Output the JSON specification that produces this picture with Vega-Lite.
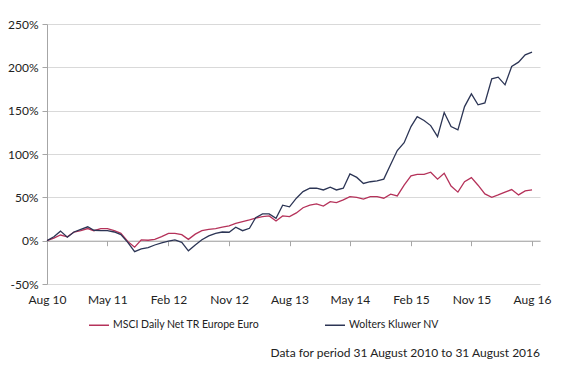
{
  "$schema": "https://vega.github.io/schema/vega-lite/v6.json",
  "width": 493,
  "height": 260,
  "autosize": {"type": "none"},
  "padding": {"left": 47, "top": 24, "right": 33, "bottom": 92},
  "background": "white",
  "config": {
    "font": "Lato",
    "view": {"stroke": null},
    "axis": {"labelFont": "Lato", "labelFontSize": 12, "labelColor": "#222222"},
    "legend": {"labelFont": "Lato", "labelFontSize": 10.5, "labelColor": "#222222"}
  },
  "title": {"text": "Data for period 31 August 2010 to 31 August 2016", "orient": "bottom", "anchor": "end", "frame": "group", "fontSize": 12, "fontWeight": "normal", "color": "#222222", "font": "Lato", "offset": 17},
  "data": {"values": [
    {"d":"2010-08-01","s":"MSCI Daily Net TR Europe Euro","v":0},
    {"d":"2010-09-01","s":"MSCI Daily Net TR Europe Euro","v":3},
    {"d":"2010-10-01","s":"MSCI Daily Net TR Europe Euro","v":6.5},
    {"d":"2010-11-01","s":"MSCI Daily Net TR Europe Euro","v":4.5},
    {"d":"2010-12-01","s":"MSCI Daily Net TR Europe Euro","v":10},
    {"d":"2011-01-01","s":"MSCI Daily Net TR Europe Euro","v":11.5},
    {"d":"2011-02-01","s":"MSCI Daily Net TR Europe Euro","v":14},
    {"d":"2011-03-01","s":"MSCI Daily Net TR Europe Euro","v":11.5},
    {"d":"2011-04-01","s":"MSCI Daily Net TR Europe Euro","v":14},
    {"d":"2011-05-01","s":"MSCI Daily Net TR Europe Euro","v":14},
    {"d":"2011-06-01","s":"MSCI Daily Net TR Europe Euro","v":11.5},
    {"d":"2011-07-01","s":"MSCI Daily Net TR Europe Euro","v":8.5},
    {"d":"2011-08-01","s":"MSCI Daily Net TR Europe Euro","v":-1},
    {"d":"2011-09-01","s":"MSCI Daily Net TR Europe Euro","v":-7.5},
    {"d":"2011-10-01","s":"MSCI Daily Net TR Europe Euro","v":1},
    {"d":"2011-11-01","s":"MSCI Daily Net TR Europe Euro","v":0.5},
    {"d":"2011-12-01","s":"MSCI Daily Net TR Europe Euro","v":1.5},
    {"d":"2012-01-01","s":"MSCI Daily Net TR Europe Euro","v":4.6},
    {"d":"2012-02-01","s":"MSCI Daily Net TR Europe Euro","v":8.5},
    {"d":"2012-03-01","s":"MSCI Daily Net TR Europe Euro","v":8.5},
    {"d":"2012-04-01","s":"MSCI Daily Net TR Europe Euro","v":7},
    {"d":"2012-05-01","s":"MSCI Daily Net TR Europe Euro","v":1.5},
    {"d":"2012-06-01","s":"MSCI Daily Net TR Europe Euro","v":7.5},
    {"d":"2012-07-01","s":"MSCI Daily Net TR Europe Euro","v":11.5},
    {"d":"2012-08-01","s":"MSCI Daily Net TR Europe Euro","v":13},
    {"d":"2012-09-01","s":"MSCI Daily Net TR Europe Euro","v":14},
    {"d":"2012-10-01","s":"MSCI Daily Net TR Europe Euro","v":15.5},
    {"d":"2012-11-01","s":"MSCI Daily Net TR Europe Euro","v":17},
    {"d":"2012-12-01","s":"MSCI Daily Net TR Europe Euro","v":20},
    {"d":"2013-01-01","s":"MSCI Daily Net TR Europe Euro","v":22},
    {"d":"2013-02-01","s":"MSCI Daily Net TR Europe Euro","v":24},
    {"d":"2013-03-01","s":"MSCI Daily Net TR Europe Euro","v":26},
    {"d":"2013-04-01","s":"MSCI Daily Net TR Europe Euro","v":27.7},
    {"d":"2013-05-01","s":"MSCI Daily Net TR Europe Euro","v":28.5},
    {"d":"2013-06-01","s":"MSCI Daily Net TR Europe Euro","v":22.7},
    {"d":"2013-07-01","s":"MSCI Daily Net TR Europe Euro","v":28.5},
    {"d":"2013-08-01","s":"MSCI Daily Net TR Europe Euro","v":27.7},
    {"d":"2013-09-01","s":"MSCI Daily Net TR Europe Euro","v":32},
    {"d":"2013-10-01","s":"MSCI Daily Net TR Europe Euro","v":38},
    {"d":"2013-11-01","s":"MSCI Daily Net TR Europe Euro","v":41},
    {"d":"2013-12-01","s":"MSCI Daily Net TR Europe Euro","v":42.4},
    {"d":"2014-01-01","s":"MSCI Daily Net TR Europe Euro","v":40},
    {"d":"2014-02-01","s":"MSCI Daily Net TR Europe Euro","v":45},
    {"d":"2014-03-01","s":"MSCI Daily Net TR Europe Euro","v":44},
    {"d":"2014-04-01","s":"MSCI Daily Net TR Europe Euro","v":47},
    {"d":"2014-05-01","s":"MSCI Daily Net TR Europe Euro","v":50.8},
    {"d":"2014-06-01","s":"MSCI Daily Net TR Europe Euro","v":50},
    {"d":"2014-07-01","s":"MSCI Daily Net TR Europe Euro","v":48},
    {"d":"2014-08-01","s":"MSCI Daily Net TR Europe Euro","v":50.8},
    {"d":"2014-09-01","s":"MSCI Daily Net TR Europe Euro","v":50.8},
    {"d":"2014-10-01","s":"MSCI Daily Net TR Europe Euro","v":49},
    {"d":"2014-11-01","s":"MSCI Daily Net TR Europe Euro","v":53.6},
    {"d":"2014-12-01","s":"MSCI Daily Net TR Europe Euro","v":51.6},
    {"d":"2015-01-01","s":"MSCI Daily Net TR Europe Euro","v":64},
    {"d":"2015-02-01","s":"MSCI Daily Net TR Europe Euro","v":74.7},
    {"d":"2015-03-01","s":"MSCI Daily Net TR Europe Euro","v":76.6},
    {"d":"2015-04-01","s":"MSCI Daily Net TR Europe Euro","v":76.6},
    {"d":"2015-05-01","s":"MSCI Daily Net TR Europe Euro","v":79},
    {"d":"2015-06-01","s":"MSCI Daily Net TR Europe Euro","v":71},
    {"d":"2015-07-01","s":"MSCI Daily Net TR Europe Euro","v":77.8},
    {"d":"2015-08-01","s":"MSCI Daily Net TR Europe Euro","v":63},
    {"d":"2015-09-01","s":"MSCI Daily Net TR Europe Euro","v":56},
    {"d":"2015-10-01","s":"MSCI Daily Net TR Europe Euro","v":68},
    {"d":"2015-11-01","s":"MSCI Daily Net TR Europe Euro","v":72.7},
    {"d":"2015-12-01","s":"MSCI Daily Net TR Europe Euro","v":64},
    {"d":"2016-01-01","s":"MSCI Daily Net TR Europe Euro","v":54},
    {"d":"2016-02-01","s":"MSCI Daily Net TR Europe Euro","v":50},
    {"d":"2016-03-01","s":"MSCI Daily Net TR Europe Euro","v":52.8},
    {"d":"2016-04-01","s":"MSCI Daily Net TR Europe Euro","v":56},
    {"d":"2016-05-01","s":"MSCI Daily Net TR Europe Euro","v":59},
    {"d":"2016-06-01","s":"MSCI Daily Net TR Europe Euro","v":52.8},
    {"d":"2016-07-01","s":"MSCI Daily Net TR Europe Euro","v":57.4},
    {"d":"2016-08-01","s":"MSCI Daily Net TR Europe Euro","v":58.5},
    {"d":"2010-08-01","s":"Wolters Kluwer NV","v":0},
    {"d":"2010-09-01","s":"Wolters Kluwer NV","v":4.5},
    {"d":"2010-10-01","s":"Wolters Kluwer NV","v":11},
    {"d":"2010-11-01","s":"Wolters Kluwer NV","v":4},
    {"d":"2010-12-01","s":"Wolters Kluwer NV","v":10},
    {"d":"2011-01-01","s":"Wolters Kluwer NV","v":13},
    {"d":"2011-02-01","s":"Wolters Kluwer NV","v":16},
    {"d":"2011-03-01","s":"Wolters Kluwer NV","v":12},
    {"d":"2011-04-01","s":"Wolters Kluwer NV","v":11.5},
    {"d":"2011-05-01","s":"Wolters Kluwer NV","v":11.5},
    {"d":"2011-06-01","s":"Wolters Kluwer NV","v":10},
    {"d":"2011-07-01","s":"Wolters Kluwer NV","v":7},
    {"d":"2011-08-01","s":"Wolters Kluwer NV","v":-2},
    {"d":"2011-09-01","s":"Wolters Kluwer NV","v":-12.7},
    {"d":"2011-10-01","s":"Wolters Kluwer NV","v":-9.5},
    {"d":"2011-11-01","s":"Wolters Kluwer NV","v":-8},
    {"d":"2011-12-01","s":"Wolters Kluwer NV","v":-5},
    {"d":"2012-01-01","s":"Wolters Kluwer NV","v":-2.5},
    {"d":"2012-02-01","s":"Wolters Kluwer NV","v":-0.5},
    {"d":"2012-03-01","s":"Wolters Kluwer NV","v":1},
    {"d":"2012-04-01","s":"Wolters Kluwer NV","v":-2},
    {"d":"2012-05-01","s":"Wolters Kluwer NV","v":-11.7},
    {"d":"2012-06-01","s":"Wolters Kluwer NV","v":-5},
    {"d":"2012-07-01","s":"Wolters Kluwer NV","v":1},
    {"d":"2012-08-01","s":"Wolters Kluwer NV","v":5.5},
    {"d":"2012-09-01","s":"Wolters Kluwer NV","v":8.5},
    {"d":"2012-10-01","s":"Wolters Kluwer NV","v":10},
    {"d":"2012-11-01","s":"Wolters Kluwer NV","v":9.7},
    {"d":"2012-12-01","s":"Wolters Kluwer NV","v":15.5},
    {"d":"2013-01-01","s":"Wolters Kluwer NV","v":11.5},
    {"d":"2013-02-01","s":"Wolters Kluwer NV","v":14.3},
    {"d":"2013-03-01","s":"Wolters Kluwer NV","v":26.6},
    {"d":"2013-04-01","s":"Wolters Kluwer NV","v":30.8},
    {"d":"2013-05-01","s":"Wolters Kluwer NV","v":30.8},
    {"d":"2013-06-01","s":"Wolters Kluwer NV","v":25.9},
    {"d":"2013-07-01","s":"Wolters Kluwer NV","v":41},
    {"d":"2013-08-01","s":"Wolters Kluwer NV","v":39},
    {"d":"2013-09-01","s":"Wolters Kluwer NV","v":49},
    {"d":"2013-10-01","s":"Wolters Kluwer NV","v":56.6},
    {"d":"2013-11-01","s":"Wolters Kluwer NV","v":60.5},
    {"d":"2013-12-01","s":"Wolters Kluwer NV","v":60.5},
    {"d":"2014-01-01","s":"Wolters Kluwer NV","v":58.5},
    {"d":"2014-02-01","s":"Wolters Kluwer NV","v":61.7},
    {"d":"2014-03-01","s":"Wolters Kluwer NV","v":58.5},
    {"d":"2014-04-01","s":"Wolters Kluwer NV","v":60.5},
    {"d":"2014-05-01","s":"Wolters Kluwer NV","v":77},
    {"d":"2014-06-01","s":"Wolters Kluwer NV","v":73},
    {"d":"2014-07-01","s":"Wolters Kluwer NV","v":66},
    {"d":"2014-08-01","s":"Wolters Kluwer NV","v":68},
    {"d":"2014-09-01","s":"Wolters Kluwer NV","v":69},
    {"d":"2014-10-01","s":"Wolters Kluwer NV","v":71},
    {"d":"2014-11-01","s":"Wolters Kluwer NV","v":88},
    {"d":"2014-12-01","s":"Wolters Kluwer NV","v":104},
    {"d":"2015-01-01","s":"Wolters Kluwer NV","v":113},
    {"d":"2015-02-01","s":"Wolters Kluwer NV","v":131.6},
    {"d":"2015-03-01","s":"Wolters Kluwer NV","v":143},
    {"d":"2015-04-01","s":"Wolters Kluwer NV","v":138.6},
    {"d":"2015-05-01","s":"Wolters Kluwer NV","v":132.8},
    {"d":"2015-06-01","s":"Wolters Kluwer NV","v":120},
    {"d":"2015-07-01","s":"Wolters Kluwer NV","v":147.8},
    {"d":"2015-08-01","s":"Wolters Kluwer NV","v":131.6},
    {"d":"2015-09-01","s":"Wolters Kluwer NV","v":127.8},
    {"d":"2015-10-01","s":"Wolters Kluwer NV","v":154.7},
    {"d":"2015-11-01","s":"Wolters Kluwer NV","v":169.4},
    {"d":"2015-12-01","s":"Wolters Kluwer NV","v":156.7},
    {"d":"2016-01-01","s":"Wolters Kluwer NV","v":159},
    {"d":"2016-02-01","s":"Wolters Kluwer NV","v":186.7},
    {"d":"2016-03-01","s":"Wolters Kluwer NV","v":188.7},
    {"d":"2016-04-01","s":"Wolters Kluwer NV","v":179.8},
    {"d":"2016-05-01","s":"Wolters Kluwer NV","v":201},
    {"d":"2016-06-01","s":"Wolters Kluwer NV","v":206},
    {"d":"2016-07-01","s":"Wolters Kluwer NV","v":214.4},
    {"d":"2016-08-01","s":"Wolters Kluwer NV","v":217.5}
  ]},
  "layer": [
    {
      "mark": {"type": "line", "strokeWidth": 1.3},
      "encoding": {
        "x": {"field": "d", "type": "temporal",
          "scale": {"type": "utc", "domain": [{"year": 2010, "month": 8, "date": 1, "utc": true}, {"year": 2016, "month": 9, "date": 6, "utc": true}]},
          "axis": {"title": null, "domain": false, "ticks": false, "grid": false, "labelPadding": 10, "labelFlush": false, "labelOverlap": false,
            "values": [{"year":2010,"month":8,"date":1,"utc":true},{"year":2011,"month":5,"date":1,"utc":true},{"year":2012,"month":2,"date":1,"utc":true},{"year":2012,"month":11,"date":1,"utc":true},{"year":2013,"month":8,"date":1,"utc":true},{"year":2014,"month":5,"date":1,"utc":true},{"year":2015,"month":2,"date":1,"utc":true},{"year":2015,"month":11,"date":1,"utc":true},{"year":2016,"month":8,"date":1,"utc":true}],
            "labelExpr": "utcFormat(datum.value, '%b %y')"}},
        "y": {"field": "v", "type": "quantitative",
          "scale": {"domain": [-50, 250], "nice": false, "zero": false},
          "axis": {"title": null, "values": [-50, 0, 50, 100, 150, 200, 250], "labelExpr": "datum.value + '%'",
            "domainColor": "#a6a6a6", "tickColor": "#a6a6a6", "tickSize": 5, "gridColor": "#d9d9d9", "labelPadding": 4}},
        "color": {"field": "s", "type": "nominal",
          "scale": {"domain": ["MSCI Daily Net TR Europe Euro", "Wolters Kluwer NV"], "range": ["#b5325a", "#2c3555"]},
          "legend": {"title": null, "orient": "none", "legendX": 41, "legendY": 290, "direction": "horizontal", "labelLimit": 400,
            "symbolType": "stroke", "symbolSize": 400, "symbolStrokeWidth": 1.5, "columnPadding": 62, "labelOffset": 3}}
      }
    },
    {
      "mark": {"type": "line", "opacity": 0},
      "encoding": {
        "x": {"field": "d", "type": "temporal",
          "axis": {"title": null, "orient": "bottom", "offset": -43.3, "labels": false, "grid": false,
            "domainColor": "#a6a6a6", "tickColor": "#a6a6a6", "tickSize": 5,
            "values": [{"year":2010,"month":8,"date":1,"utc":true},{"year":2011,"month":5,"date":1,"utc":true},{"year":2012,"month":2,"date":1,"utc":true},{"year":2012,"month":11,"date":1,"utc":true},{"year":2013,"month":8,"date":1,"utc":true},{"year":2014,"month":5,"date":1,"utc":true},{"year":2015,"month":2,"date":1,"utc":true},{"year":2015,"month":11,"date":1,"utc":true},{"year":2016,"month":8,"date":1,"utc":true}]}},
        "y": {"field": "v", "type": "quantitative"},
        "color": {"field": "s", "type": "nominal"}
      }
    }
  ],
  "resolve": {"axis": {"x": "independent"}}
}
